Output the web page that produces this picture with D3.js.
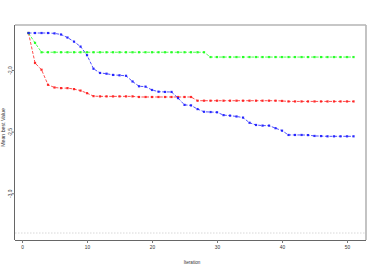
<!DOCTYPE html>
<html><head><meta charset="utf-8">
<script src="https://cdn.jsdelivr.net/npm/d3@7"></script>
<style>html,body{margin:0;padding:0;background:#fff;}svg{display:block;}</style>
</head><body>
<svg id="c" width="374" height="273"></svg>
<script>
const iterations = [1,2,3,4,5,6,7,8,9,10,11,12,13,14,15,16,17,18,19,20,21,22,23,24,25,26,27,28,29,30,31,32,33,34,35,36,37,38,39,40,41,42,43,44,45,46,47,48,49,50,51];
const redValues = [-1.70,-1.943,-1.998,-2.12,-2.142,-2.147,-2.147,-2.155,-2.167,-2.188,-2.212,
  -2.214,-2.214,-2.214,-2.214,-2.214,-2.214,
  -2.219,-2.219,-2.219,-2.219,-2.219,-2.219,-2.219,-2.219,-2.219,
  -2.249,-2.249,-2.249,-2.249,-2.249,-2.249,-2.249,-2.249,-2.249,-2.249,-2.249,-2.249,-2.249,-2.251,
  -2.255,-2.255,-2.255,-2.255,-2.255,-2.255,-2.255,-2.255,-2.255,-2.255,-2.255];
const greenValues = [-1.70,-1.78,
  -1.856,-1.856,-1.856,-1.856,-1.856,-1.856,-1.856,-1.856,-1.856,-1.856,-1.856,-1.856,-1.856,
  -1.856,-1.856,-1.856,-1.856,-1.856,-1.856,-1.856,-1.856,-1.856,-1.856,-1.856,-1.856,-1.856,
  -1.895,-1.895,-1.895,-1.895,-1.895,-1.895,-1.895,-1.895,-1.895,-1.895,-1.895,-1.895,-1.895,
  -1.895,-1.895,-1.895,-1.895,-1.895,-1.895,-1.895,-1.895,-1.895,-1.895];
const blueValues = [-1.70,-1.70,-1.70,-1.70,-1.703,-1.712,-1.737,-1.77,-1.81,-1.88,-1.99,-2.024,-2.03,
  -2.04,-2.043,-2.047,-2.093,-2.132,-2.135,-2.162,-2.176,-2.178,-2.178,-2.228,-2.283,-2.287,
  -2.317,-2.339,-2.341,-2.343,-2.366,-2.37,-2.377,-2.386,-2.428,-2.446,-2.451,-2.451,-2.472,
  -2.492,-2.527,-2.527,-2.527,-2.528,-2.535,-2.536,-2.538,-2.538,-2.538,-2.538,-2.538];
const optimum = -3.32237;
const xTicks = [0,10,20,30,40,50];
const yTicks = [-2.0,-2.5,-3.0];
const yTickLabels = ["-2.0","-2.5","-3.0"];

const series = [
  {name:"red", color:"#ff1a1a", values:redValues},
  {name:"green", color:"#1aff1a", values:greenValues},
  {name:"blue", color:"#1a1aff", values:blueValues}
];

const svg = d3.select("#c");
const L=15, R=366, T=25, B=240;
const x = d3.scaleLinear().domain([-1.08, 52.92]).range([L, R]);
const y = d3.scaleLinear().domain([-3.379, -1.635]).range([B, T]);
const font = "'Liberation Sans', Arial, sans-serif";

// optimum reference line
svg.append("line").attr("x1",L).attr("x2",R).attr("y1",y(optimum)).attr("y2",y(optimum))
  .attr("stroke","#cfcfcf").attr("stroke-width",0.8).attr("stroke-dasharray","1.5,1.5");

// frame
svg.append("line").attr("x1",L).attr("x2",R).attr("y1",T).attr("y2",T).attr("stroke","#b5b5b5").attr("stroke-width",1.6);
svg.append("line").attr("x1",R).attr("x2",R).attr("y1",T).attr("y2",B).attr("stroke","#b5b5b5").attr("stroke-width",1.6);

// axes
const xAxis = d3.axisBottom(x).tickValues(xTicks).tickSize(3).tickPadding(3).tickFormat(d3.format("d"));
const gx = svg.append("g").attr("transform",`translate(0,${B})`).call(xAxis);
gx.select(".domain").attr("stroke","#666").attr("stroke-width",1).attr("d",`M${L},0.5H${R}`);
gx.selectAll(".tick line").attr("stroke","#777");
gx.selectAll("text").attr("font-size",4.8).attr("font-family",font).attr("fill","#333");

const yAxis = d3.axisLeft(y).tickValues(yTicks).tickSize(3).tickFormat((d,i)=>yTickLabels[i]);
const gy = svg.append("g").attr("transform",`translate(${L},0)`).call(yAxis);
gy.select(".domain").attr("stroke","#666").attr("stroke-width",1).attr("d",`M-0.5,${T}V${B}`);
gy.selectAll(".tick line").attr("stroke","#777");
gy.selectAll("text").attr("font-size",4.8).attr("font-family",font).attr("fill","#333")
  .attr("x",null).attr("dy",null).attr("text-anchor","middle")
  .attr("transform","translate(-3.4,0) rotate(-90)");

// labels
svg.append("text").attr("x",192).attr("y",264).attr("text-anchor","middle")
  .attr("font-size",4.6).attr("font-family",font).attr("fill","#333").text("Iteration");
svg.append("text").attr("transform",`translate(4.6,127.5) rotate(-90)`).attr("text-anchor","middle")
  .attr("font-size",5.2).attr("font-family",font).attr("fill","#333").text("Mean best Value");

// series
const line = d3.line().x((d,i)=>x(iterations[i])).y(d=>y(d));
series.forEach(s=>{
  const g = svg.append("g");
  g.append("path").datum(s.values).attr("d",line).attr("fill","none")
    .attr("stroke",s.color).attr("stroke-width",0.9).attr("stroke-dasharray","3,1.6").attr("opacity",0.85);
  g.selectAll("rect").data(s.values).join("rect")
    .attr("x",(d,i)=>x(iterations[i])-1.1).attr("y",d=>y(d)-1.1)
    .attr("width",2.2).attr("height",2.2).attr("fill",s.color).attr("opacity",0.9);
});
</script>
</body></html>
